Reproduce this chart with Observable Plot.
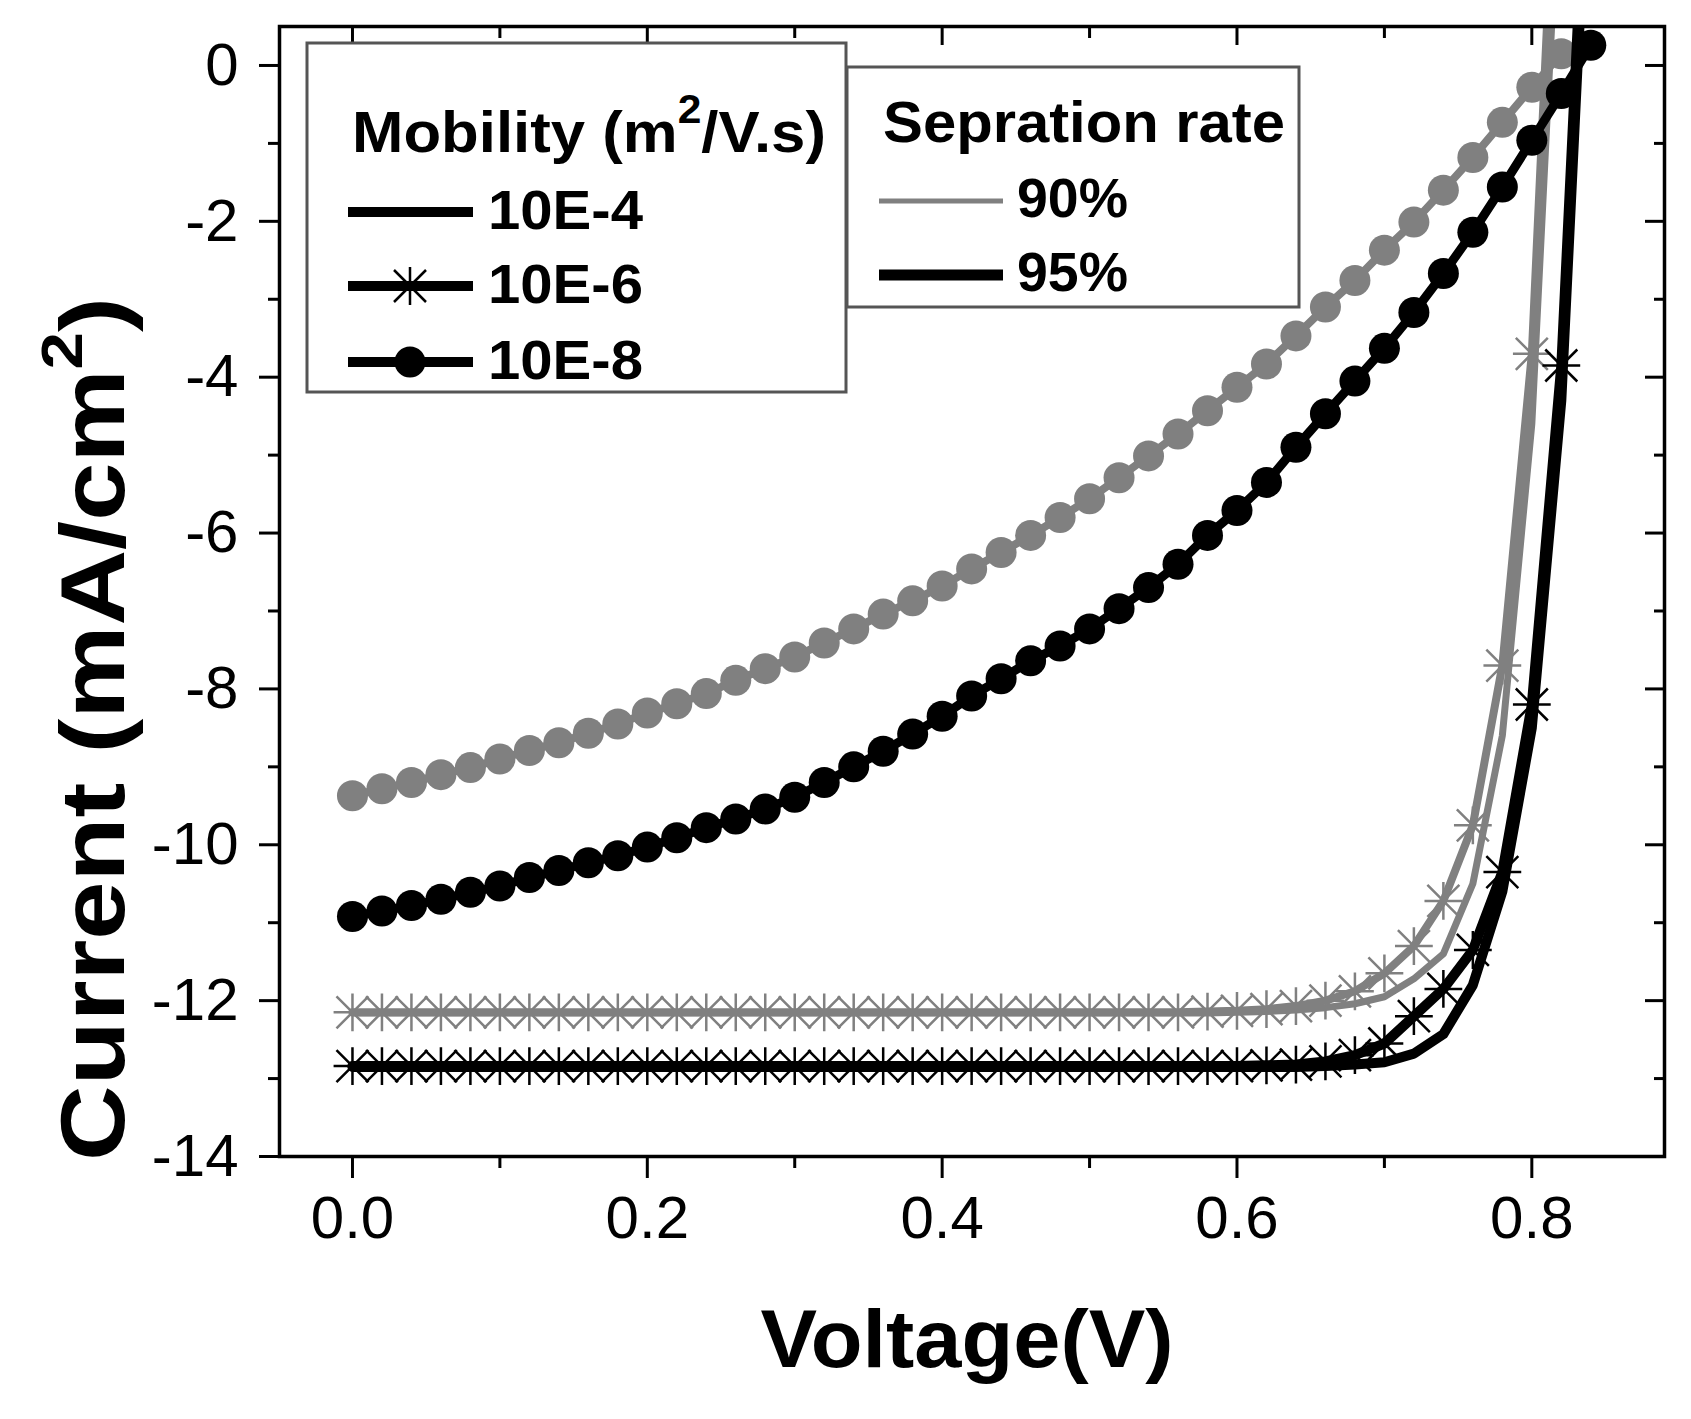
<!DOCTYPE html>
<html>
<head>
<meta charset="utf-8">
<script src="https://cdn.jsdelivr.net/npm/d3@7"></script>
<script src="https://cdn.jsdelivr.net/npm/@observablehq/plot@0.6"></script>
<style>
  html, body { margin: 0; padding: 0; background: #fff; }
  svg { display: block; }
</style>
</head>
<body>
<div id="chart"></div>
<script>
// ---------- data ----------
const voltage = [0,0.02,0.04,0.06,0.08,0.10,0.12,0.14,0.16,0.18,0.20,0.22,0.24,0.26,0.28,0.30,0.32,0.34,0.36,0.38,0.40,0.42,0.44,0.46,0.48,0.50,0.52,0.54,0.56,0.58,0.60,0.62,0.64,0.66,0.68,0.70,0.72,0.74,0.76,0.78,0.80,0.82,0.84];

// mobility 10E-8 (filled circles)
const gray8 = [-9.37,-9.28,-9.20,-9.10,-9.01,-8.90,-8.79,-8.69,-8.57,-8.45,
  -8.31,-8.19,-8.06,-7.89,-7.74,-7.59,-7.41,-7.23,-7.04,-6.87,
  -6.68,-6.46,-6.25,-6.03,-5.80,-5.56,-5.29,-5.01,-4.73,-4.43,
  -4.13,-3.83,-3.47,-3.10,-2.76,-2.37,-2.01,-1.60,-1.18,-0.73,
  -0.28,0.15];
const black8 = [-10.92,-10.85,-10.78,-10.70,-10.61,-10.53,-10.42,-10.33,-10.23,-10.14,
  -10.03,-9.91,-9.78,-9.67,-9.54,-9.39,-9.20,-9.00,-8.80,-8.58,
  -8.35,-8.09,-7.87,-7.64,-7.45,-7.23,-6.97,-6.70,-6.40,-6.03,
  -5.71,-5.35,-4.90,-4.47,-4.05,-3.63,-3.17,-2.67,-2.14,-1.56,
  -0.96,-0.36,0.26];

// mobility 10E-6 (asterisks)
const gray6 = [-12.15,-12.15,-12.15,-12.15,-12.15,-12.15,-12.15,-12.15,-12.15,-12.15,
  -12.15,-12.15,-12.15,-12.15,-12.15,-12.15,-12.15,-12.15,-12.15,-12.15,
  -12.15,-12.15,-12.15,-12.15,-12.15,-12.15,-12.15,-12.15,-12.15,-12.14,
  -12.13,-12.11,-12.07,-12.00,-11.88,-11.65,-11.30,-10.72,-9.75,-7.70,
  -3.70,4.50];
const black6 = [-12.84,-12.84,-12.84,-12.84,-12.84,-12.84,-12.84,-12.84,-12.84,-12.84,
  -12.84,-12.84,-12.84,-12.84,-12.84,-12.84,-12.84,-12.84,-12.84,-12.84,
  -12.84,-12.84,-12.84,-12.84,-12.84,-12.84,-12.84,-12.84,-12.84,-12.84,
  -12.84,-12.83,-12.82,-12.78,-12.70,-12.55,-12.20,-11.85,-11.35,-10.35,
  -8.20,-3.85,4.00];

// mobility 10E-4 (plain line)
const gray4 = [-12.16,-12.16,-12.16,-12.16,-12.16,-12.16,-12.16,-12.16,-12.16,-12.16,
  -12.16,-12.16,-12.16,-12.16,-12.16,-12.16,-12.16,-12.16,-12.16,-12.16,
  -12.16,-12.16,-12.16,-12.16,-12.16,-12.16,-12.16,-12.16,-12.16,-12.16,
  -12.15,-12.14,-12.12,-12.09,-12.04,-11.95,-11.72,-11.40,-10.50,-8.60,
  -4.60,3.00];
const black4 = [-12.85,-12.85,-12.85,-12.85,-12.85,-12.85,-12.85,-12.85,-12.85,-12.85,
  -12.85,-12.85,-12.85,-12.85,-12.85,-12.85,-12.85,-12.85,-12.85,-12.85,
  -12.85,-12.85,-12.85,-12.85,-12.85,-12.85,-12.85,-12.85,-12.85,-12.85,
  -12.85,-12.85,-12.85,-12.84,-12.82,-12.79,-12.68,-12.43,-11.80,-10.60,
  -8.50,-4.30,3.50];

const xMajor = [0, 0.2, 0.4, 0.6, 0.8];
const xMinor = [0.1, 0.3, 0.5, 0.7];
const yMajor = [0, -2, -4, -6, -8, -10, -12, -14];
const yMinor = [-1, -3, -5, -7, -9, -11, -13];

const mobilityLabels = ["10E-4", "10E-6", "10E-8"];
const rateLabels = ["90%", "95%"];
const GRAY = "#808080";
const BLACK = "#000000";
const FONT = "'Liberation Sans', Arial, Helvetica, sans-serif";

const rows = (arr) => arr.map((j, i) => ({v: voltage[i], j}));

// ---------- chart ----------
const asterisk = (data, color) => [
  Plot.dot(data, {x: "v", y: "j", symbol: "plus", r: 12.2, stroke: color, strokeWidth: 2.5, fill: "none", clip: true}),
  Plot.dot(data, {x: "v", y: "j", symbol: "times", r: 14.6, stroke: color, strokeWidth: 2.5, fill: "none", clip: true})
];

const chart = Plot.plot({
  width: 1691,
  height: 1419,
  marginLeft: 279,
  marginRight: 27,
  marginTop: 26,
  marginBottom: 263,
  style: {fontFamily: FONT, background: "white", color: "black"},
  x: {domain: [-0.0495, 0.89]},
  y: {domain: [-14, 0.5]},
  marks: [
    // gray (90%)
    Plot.line(rows(gray4), {x: "v", y: "j", stroke: GRAY, strokeWidth: 7, clip: true}),
    Plot.line(rows(gray6), {x: "v", y: "j", stroke: GRAY, strokeWidth: 8, clip: true}),
    ...asterisk(rows(gray6), GRAY),
    Plot.line(rows(gray8), {x: "v", y: "j", stroke: GRAY, strokeWidth: 8, clip: true}),
    Plot.dot(rows(gray8), {x: "v", y: "j", r: 15.5, fill: GRAY, stroke: "none", clip: true}),
    // black (95%)
    Plot.line(rows(black4), {x: "v", y: "j", stroke: BLACK, strokeWidth: 10, clip: true}),
    Plot.line(rows(black6), {x: "v", y: "j", stroke: BLACK, strokeWidth: 10, clip: true}),
    ...asterisk(rows(black6), BLACK),
    Plot.line(rows(black8), {x: "v", y: "j", stroke: BLACK, strokeWidth: 9, clip: true}),
    Plot.dot(rows(black8), {x: "v", y: "j", r: 15.5, fill: BLACK, stroke: "none", clip: true}),
    // axes
    Plot.axisX({ticks: xMajor, tickSize: 22, tickPadding: 17, tickFormat: d3.format(".1f"), fontSize: 60, strokeWidth: 3, label: null}),
    Plot.axisX({ticks: xMinor, tickSize: 12, tickFormat: () => "", strokeWidth: 3, label: null}),
    Plot.axisX({anchor: "top", ticks: xMajor, tickSize: -18, tickFormat: () => "", strokeWidth: 3, label: null}),
    Plot.axisX({anchor: "top", ticks: xMinor, tickSize: -11, tickFormat: () => "", strokeWidth: 3, label: null}),
    Plot.axisY({ticks: yMajor, tickSize: 20, tickPadding: 21, tickFormat: d => String(d), fontSize: 60, strokeWidth: 3, label: null}),
    Plot.axisY({ticks: yMinor, tickSize: 11, tickFormat: () => "", strokeWidth: 3, label: null}),
    Plot.axisY({anchor: "right", ticks: yMajor, tickSize: -20, tickFormat: () => "", strokeWidth: 3, label: null}),
    Plot.axisY({anchor: "right", ticks: yMinor, tickSize: -11, tickFormat: () => "", strokeWidth: 3, label: null}),
    Plot.frame({stroke: "black", strokeWidth: 3.5})
  ]
});

document.getElementById("chart").appendChild(chart);

// ---------- titles & legends (layout overlay) ----------
const svg = d3.select(chart);
const ov = svg.append("g").attr("font-family", FONT).attr("font-weight", "bold")
  .attr("fill", "black").attr("text-anchor", "start");

// x title
ov.append("text").attr("x", 967).attr("y", 1367).attr("text-anchor", "middle")
  .attr("font-size", 82).attr("textLength", 413).attr("lengthAdjust", "spacingAndGlyphs")
  .text("Voltage(V)");

// y title
const yt = ov.append("text").attr("transform", "translate(124,729) rotate(-90)")
  .attr("text-anchor", "middle").attr("font-size", 90)
  .attr("textLength", 864).attr("lengthAdjust", "spacingAndGlyphs");
yt.append("tspan").text("Current (mA/cm");
yt.append("tspan").attr("font-size", 58).attr("dy", -42).text("2");
yt.append("tspan").attr("dy", 42).text(")");

// legend 1: mobility
ov.append("rect").attr("x", 307).attr("y", 43).attr("width", 539).attr("height", 349)
  .attr("fill", "white").attr("stroke", "#555").attr("stroke-width", 3);
const lt = ov.append("text").attr("x", 352).attr("y", 152).attr("font-size", 58)
  .attr("textLength", 474).attr("lengthAdjust", "spacingAndGlyphs");
lt.append("tspan").text("Mobility (m");
lt.append("tspan").attr("font-size", 40).attr("dy", -29).text("2");
lt.append("tspan").attr("dy", 29).text("/V.s)");

const legY = [212, 286, 362];
mobilityLabels.forEach((lab, i) => {
  ov.append("line").attr("x1", 348).attr("x2", 473).attr("y1", legY[i]).attr("y2", legY[i])
    .attr("stroke", BLACK).attr("stroke-width", 10);
  ov.append("text").attr("x", 488).attr("y", legY[i] + 17).attr("font-size", 56)
    .attr("textLength", 155).attr("lengthAdjust", "spacingAndGlyphs").text(lab);
});
// asterisk sample
ov.append("path").attr("transform", `translate(410,${legY[1]})`)
  .attr("d", d3.symbol(d3.symbolPlus, Math.PI * 12.2 * 12.2)())
  .attr("fill", "none").attr("stroke", BLACK).attr("stroke-width", 2.5);
ov.append("path").attr("transform", `translate(410,${legY[1]})`)
  .attr("d", d3.symbol(d3.symbolTimes, Math.PI * 14.6 * 14.6)())
  .attr("fill", "none").attr("stroke", BLACK).attr("stroke-width", 2.5);
// circle sample
ov.append("circle").attr("cx", 410).attr("cy", legY[2]).attr("r", 15.5).attr("fill", BLACK);

// legend 2: separation rate
ov.append("rect").attr("x", 847).attr("y", 67).attr("width", 452).attr("height", 240)
  .attr("fill", "white").attr("stroke", "#555").attr("stroke-width", 3);
ov.append("text").attr("x", 883).attr("y", 142).attr("font-size", 58)
  .attr("textLength", 402).attr("lengthAdjust", "spacingAndGlyphs").text("Sepration rate");
const rateY = [201, 275];
const rateColor = [GRAY, BLACK];
const rateWidth = [5, 11];
rateLabels.forEach((lab, i) => {
  ov.append("line").attr("x1", 879).attr("x2", 1003).attr("y1", rateY[i]).attr("y2", rateY[i])
    .attr("stroke", rateColor[i]).attr("stroke-width", rateWidth[i]);
  ov.append("text").attr("x", 1017).attr("y", rateY[i] + 16).attr("font-size", 55)
    .attr("textLength", 111).attr("lengthAdjust", "spacingAndGlyphs").text(lab);
});
</script>
</body>
</html>
